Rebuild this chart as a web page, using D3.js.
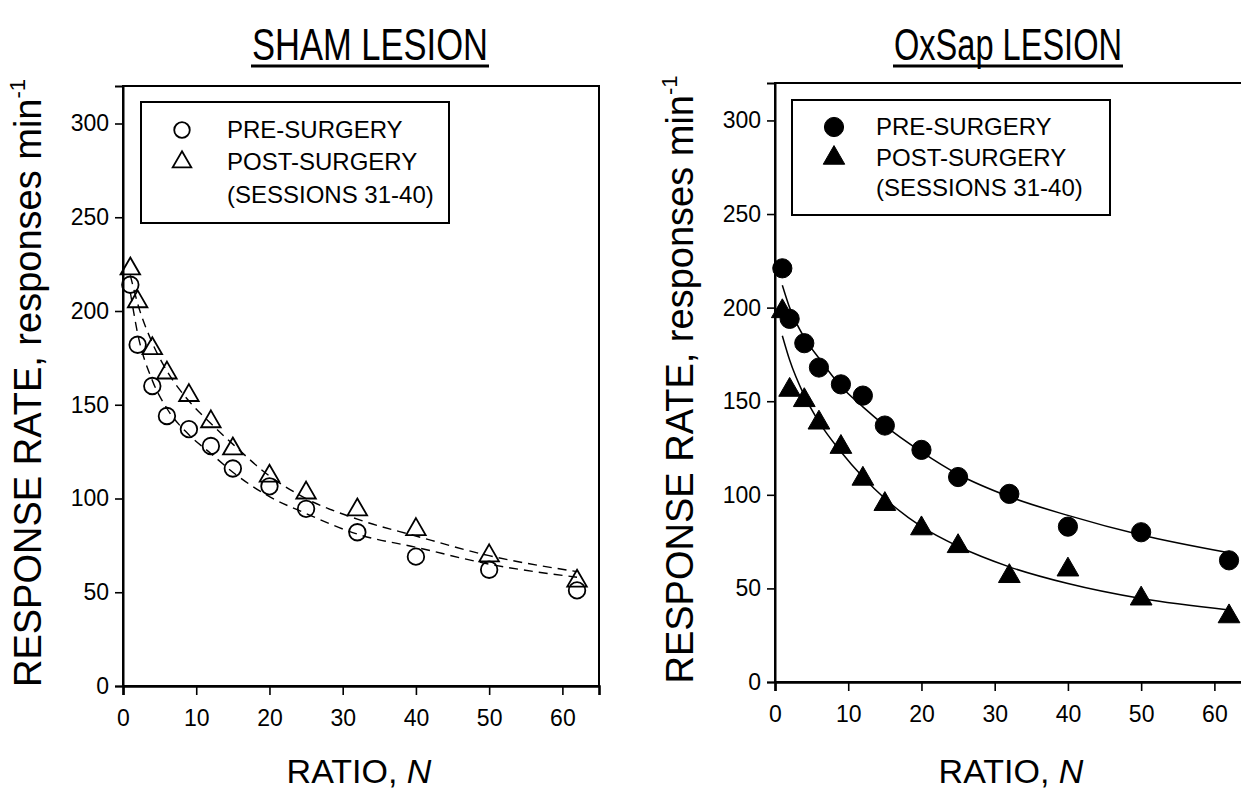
<!DOCTYPE html>
<html>
<head>
<meta charset="utf-8">
<script src="https://cdn.jsdelivr.net/npm/d3@7"></script>
<style>
  body { margin: 0; background: #fff; }
  text { font-family: "Liberation Sans", Arial, sans-serif; fill: #000; }
</style>
</head>
<body>
<div id="chart"></div>
<script>
// ratio requirements (x values)
var ratios = [1, 2, 4, 6, 9, 12, 15, 20, 25, 32, 40, 50, 62];

// SHAM LESION - response rates
var shamPre  = [214, 182, 160, 144, 137, 128, 116, 106.5, 94.5, 82, 69, 62, 51];
var shamPost = [222.5, 205, 180, 167, 155, 141, 126.5, 112, 103, 94, 83.5, 69.5, 56];
// fitted dashed curves (read at the same ratios)
var shamPreFit  = [210, 188, 163, 148, 134, 124, 114, 101, 92, 81, 74, 65, 58];
var shamPostFit = [219, 204, 183, 168, 152, 140, 129, 112, 100, 89, 80, 69.5, 61];

// OxSap LESION
var oxPre  = [221, 194, 181, 168, 159, 153, 137, 124, 109.5, 100.5, 83, 80, 65];
var oxPost = [198, 156, 150.5, 138.5, 125.5, 108.5, 95, 82, 72.5, 56.5, 60, 44.5, 35];
// fitted solid curves
var oxPreFit  = [212, 200, 184, 173, 158, 147, 137, 123, 111, 99, 89, 78.5, 69];
var oxPostFit = [185, 172, 153, 139, 123, 109.5, 98, 83, 72.5, 61.5, 52.6, 44.6, 38.5];

var yTicks = [0, 50, 100, 150, 200, 250, 300];
var xTicks = [0, 10, 20, 30, 40, 50, 60];
var legendLabels = ["PRE-SURGERY", "POST-SURGERY", "(SESSIONS 31-40)"];

var w = 1241, h = 791;

var svg = d3.select("#chart")
  .append("svg")
  .attr("width", w)
  .attr("height", h);

var panels = [
  { title: "SHAM LESION", titleX: 370, titleW: 236, left: 123, top: 86, bottom: 686, width: 476,
    pre: shamPre, post: shamPost, preFit: shamPreFit, postFit: shamPostFit,
    filled: false, dash: "9,6",
    legend: { x: 141, y: 102, w: 308, h: 121, sym: 182, txt: 227, rows: [138, 170, 203] } },
  { title: "OxSap LESION", titleX: 1008, titleW: 228, left: 775, top: 83, bottom: 682, width: 476,
    pre: oxPre, post: oxPost, preFit: oxPreFit, postFit: oxPostFit,
    filled: true, dash: null,
    legend: { x: 792, y: 100, w: 318, h: 115, sym: 834, txt: 876, rows: [135, 166, 196] } }
];

panels.forEach(function(p) {
  var x = d3.scaleLinear().domain([0, 65]).range([p.left, p.left + p.width]);
  var y = d3.scaleLinear().domain([0, 320]).range([p.bottom, p.top]);
  var g = svg.append("g");

  // frame
  g.append("rect")
    .attr("x", p.left).attr("y", p.top)
    .attr("width", p.width).attr("height", p.bottom - p.top)
    .attr("fill", "none").attr("stroke", "#000").attr("stroke-width", 2);

  // axes
  var yAxis = g.append("g")
    .attr("transform", "translate(" + p.left + ",0)")
    .call(d3.axisLeft(y).tickValues(yTicks).tickSizeOuter(0).tickSize(8).tickPadding(6));
  var xAxis = g.append("g")
    .attr("transform", "translate(0," + p.bottom + ")")
    .call(d3.axisBottom(x).tickValues(xTicks).tickSizeOuter(0).tickSize(9).tickPadding(15));
  [yAxis, xAxis].forEach(function(a) {
    a.select(".domain").attr("stroke-width", 2);
    a.selectAll(".tick line").attr("stroke-width", 1.6);
    a.selectAll(".tick text")
      .style("font-family", "'Liberation Sans', Arial, sans-serif")
      .style("font-size", "23px").attr("fill", "#000");
  });
  xAxis.select(".domain").attr("stroke-width", 2.6);

  // fitted curves
  var line = d3.line()
    .x(function(d, i) { return x(ratios[i]); })
    .y(function(d) { return y(d); })
    .curve(d3.curveMonotoneX);
  [p.preFit, p.postFit].forEach(function(fit) {
    g.append("path")
      .attr("d", line(fit))
      .attr("fill", "none")
      .attr("stroke", "#000")
      .attr("stroke-width", p.filled ? 1.5 : 1.4)
      .attr("stroke-dasharray", p.dash);
  });

  // markers
  var circ = d3.symbol().type(d3.symbolCircle).size(p.filled ? 290 : 215);
  var tri = d3.symbol().type(d3.symbolTriangle).size(p.filled ? 205 : 165);
  function style(sel) {
    sel.attr("fill", p.filled ? "#000" : "none")
      .attr("stroke", "#000")
      .attr("stroke-width", p.filled ? 1 : 1.8);
  }
  g.selectAll(".post").data(p.post).enter().append("path")
    .attr("transform", function(d, i) { return "translate(" + x(ratios[i]) + "," + y(d) + ")"; })
    .attr("d", tri).call(style);
  g.selectAll(".pre").data(p.pre).enter().append("path")
    .attr("transform", function(d, i) { return "translate(" + x(ratios[i]) + "," + y(d) + ")"; })
    .attr("d", circ).call(style);

  // legend
  var L = p.legend;
  g.append("rect")
    .attr("x", L.x).attr("y", L.y).attr("width", L.w).attr("height", L.h)
    .attr("fill", "#fff").attr("stroke", "#000").attr("stroke-width", 2);
  g.append("path").attr("transform", "translate(" + L.sym + "," + (L.rows[0] - 8) + ")")
    .attr("d", d3.symbol().type(d3.symbolCircle).size(p.filled ? 290 : 190)()).call(style);
  g.append("path").attr("transform", "translate(" + L.sym + "," + (L.rows[1] - 8) + ")")
    .attr("d", d3.symbol().type(d3.symbolTriangle).size(p.filled ? 200 : 150)()).call(style);
  legendLabels.forEach(function(t, i) {
    g.append("text").attr("x", L.txt).attr("y", L.rows[i])
      .style("font-size", "24px").text(t);
  });

  // y title
  var yt = g.append("text")
    .attr("transform", "translate(" + (p.left - 82) + "," + ((p.top + p.bottom) / 2 - 3) + ") rotate(-90)")
    .attr("text-anchor", "middle")
    .style("font-size", "38px");
  yt.append("tspan").text("RESPONSE RATE, responses min");
  yt.append("tspan").attr("dy", -16).style("font-size", "22px").text("-1");

  // x title
  var xt = g.append("text")
    .attr("x", p.left + p.width / 2 - 2).attr("y", 783)
    .attr("text-anchor", "middle")
    .style("font-size", "34px");
  xt.append("tspan").text("RATIO, ");
  xt.append("tspan").style("font-style", "italic").text("N");

  // panel title (narrow, underlined)
  g.append("text")
    .attr("x", p.titleX).attr("y", 60)
    .attr("text-anchor", "middle")
    .attr("textLength", p.titleW).attr("lengthAdjust", "spacingAndGlyphs")
    .style("font-size", "44px")
    .text(p.title);
  g.append("line")
    .attr("x1", p.titleX - p.titleW / 2 - 1).attr("x2", p.titleX + p.titleW / 2 + 1)
    .attr("y1", 66).attr("y2", 66)
    .attr("stroke", "#000").attr("stroke-width", 3);
});
</script>
</body>
</html>
